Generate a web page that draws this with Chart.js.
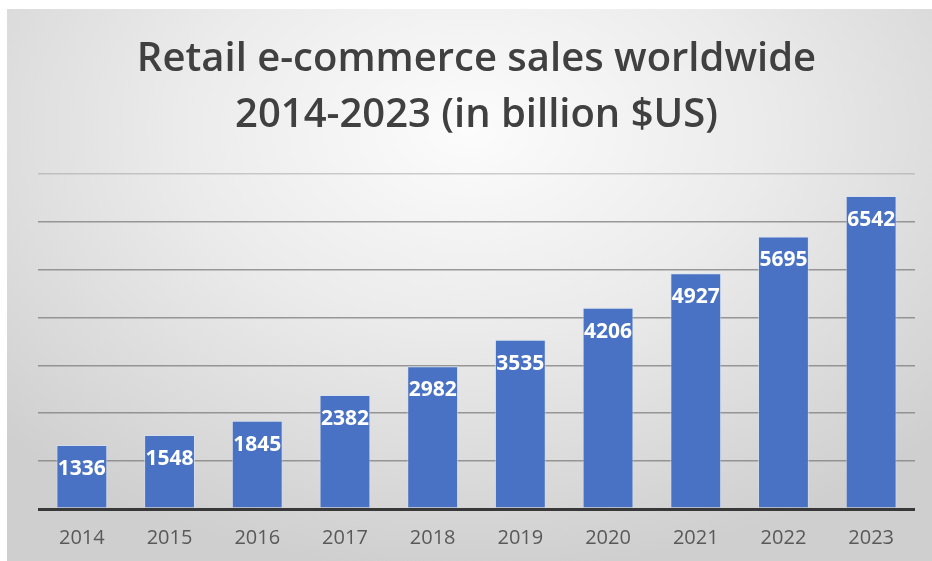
<!DOCTYPE html>
<html lang="en">
<head>
    <meta charset="UTF-8">
    <title>Retail e-commerce sales worldwide</title>
    <script src="https://cdn.jsdelivr.net/npm/chart.js"></script>
    <style>
        body { margin: 0; background-color: #fff; }
        .panel {
            position: absolute; left: 7px; top: 9px; width: 925px; height: 552px;
            background: radial-gradient(ellipse 70% 80% at 50% 22%, #fcfcfc 0%, #ebebeb 45%, #cfcfcf 100%);
        }
        canvas { display: block; }
    </style>
</head>
<body>
    <div class="panel">
        <canvas id="salesChart" width="925" height="552"></canvas>
    </div>

    <script>
        // sales in billion US dollars
        const years = ['2014', '2015', '2016', '2017', '2018', '2019', '2020', '2021', '2022', '2023'];
        const sales = [1336, 1548, 1845, 2382, 2982, 3535, 4206, 4927, 5695, 6542];
        const titleLines = ['Retail e-commerce sales worldwide', '2014-2023 (in billion $US)'];

        // white value labels inside the top of each bar
        const barValues = {
            id: 'barValues',
            afterDatasetsDraw(chart) {
                const ctx = chart.ctx;
                const meta = chart.getDatasetMeta(0);
                ctx.save();
                ctx.fillStyle = '#ffffff';
                ctx.font = 'bold 21px "Open Sans"';
                ctx.textAlign = 'center';
                ctx.textBaseline = 'middle';
                meta.data.forEach((bar, i) => {
                    ctx.fillText(String(sales[i]), bar.x, bar.y + 24);
                });
                ctx.restore();
            }
        };

        new Chart(document.getElementById('salesChart'), {
            type: 'bar',
            data: {
                labels: years,
                datasets: [{
                    data: sales,
                    backgroundColor: '#4a72c4',
                    borderColor: 'rgba(210,225,245,0.6)',
                    borderWidth: 1,
                    barPercentage: 0.58,
                    categoryPercentage: 1
                }]
            },
            options: {
                responsive: false,
                animation: false,
                layout: { padding: { left: 31, right: 17, top: 0, bottom: -6 } },
                plugins: {
                    legend: { display: false },
                    tooltip: { enabled: false },
                    title: {
                        display: true,
                        text: titleLines,
                        color: '#404040',
                        font: { family: '"Open Sans"', size: 40, weight: '600', lineHeight: 1.4 },
                        padding: { top: 23, bottom: 30 }
                    }
                },
                scales: {
                    x: {
                        grid: { display: false, drawTicks: false },
                        border: { display: false },
                        ticks: {
                            color: '#595959',
                            font: { family: '"Open Sans"', size: 20 },
                            padding: 17
                        }
                    },
                    y: {
                        min: 0,
                        max: 7000,
                        ticks: { display: false, stepSize: 1000 },
                        border: { display: false },
                        grid: {
                            drawTicks: false,
                            color: c => c.tick.value === 0 ? '#383838' : (c.tick.value === 7000 ? 'rgba(150,150,150,0.45)' : 'rgba(130,130,130,0.8)'),
                            lineWidth: c => c.tick.value === 0 ? 3 : 1.6
                        }
                    }
                }
            },
            plugins: [barValues]
        });
    </script>
</body>
</html>
